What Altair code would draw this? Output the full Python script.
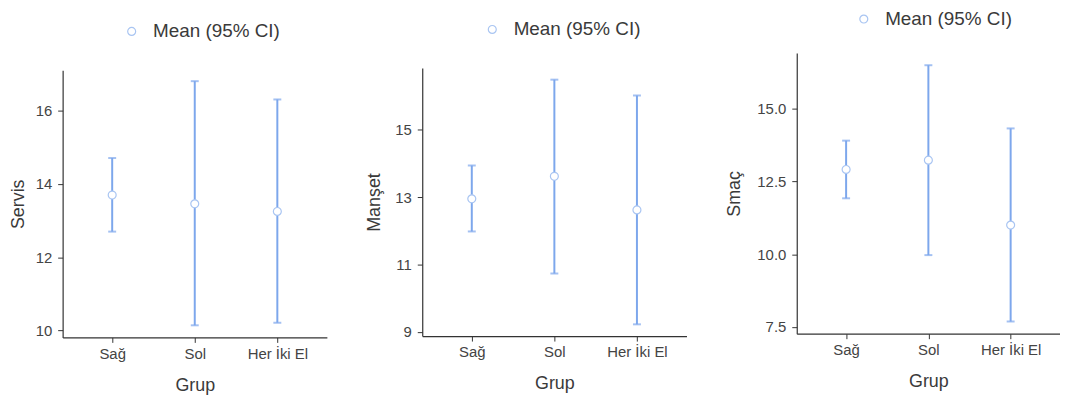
import altair as alt
import pandas as pd

groups = ["Sağ", "Sol", "Her İki El"]
legend_label = "Mean (95% CI)"

servis_mean = [13.70, 13.46, 13.25]
servis_lower = [12.70, 10.14, 10.21]
servis_upper = [14.71, 16.81, 16.31]

manset_mean = [12.95, 13.62, 12.62]
manset_lower = [11.98, 10.73, 9.22]
manset_upper = [13.94, 16.49, 16.02]

smac_mean = [12.91, 13.23, 11.00]
smac_lower = [11.92, 9.97, 7.69]
smac_upper = [13.90, 16.49, 14.32]

servis_ticks = [10, 12, 14, 16]
manset_ticks = [9, 11, 13, 15]
smac_ticks = [7.5, 10.0, 12.5, 15.0]

BAR = "#7DA7EC"
PT = "#A9C5F2"
TXT = "#3a3a3a"
FONT = "Liberation Sans"


def panel(title, mean, lower, upper, domain, ticks, fmt, width, height,
          y_top, title_pad, leg_x, leg_y):
    df = pd.DataFrame({"Grup": groups, "mean": mean, "lower": lower,
                       "upper": upper, "series": legend_label})
    x = alt.X("Grup:N", sort=groups,
              scale=alt.Scale(type="point", padding=0.6),
              axis=alt.Axis(title="Grup", labelAngle=0, labelPadding=4,
                            titlePadding=15))
    yscale = alt.Scale(domain=domain, nice=False, zero=False,
                       range=[height, y_top])
    yaxis = alt.Axis(title=title, values=ticks, format=fmt,
                     titlePadding=title_pad, labelPadding=6)

    def Y(field):
        return alt.Y(field + ":Q", scale=yscale, axis=yaxis)

    base = alt.Chart(df)
    rule = base.mark_rule(color=BAR, strokeWidth=2).encode(
        x=x, y=Y("lower"), y2="upper:Q")
    cap_lo = base.mark_tick(color=BAR, thickness=2, size=8,
                            orient="horizontal").encode(x=x, y=Y("lower"))
    cap_hi = base.mark_tick(color=BAR, thickness=2, size=8,
                            orient="horizontal").encode(x=x, y=Y("upper"))
    pts = base.mark_point(filled=False, fill="white", size=64,
                          strokeWidth=1.2, opacity=1).encode(
        x=x, y=Y("mean"),
        color=alt.Color("series:N",
                        scale=alt.Scale(domain=[legend_label], range=[PT]),
                        legend=alt.Legend(title=None, orient="none",
                                          legendX=leg_x, legendY=leg_y,
                                          padding=0,
                                          labelFontSize=19,
                                          labelColor=TXT, labelFont=FONT,
                                          symbolType="circle",
                                          symbolSize=64,
                                          symbolStrokeWidth=1.2,
                                          symbolFillColor="white",
                                          labelOffset=12)))
    return alt.layer(rule, cap_lo, cap_hi, pts).properties(
        width=width, height=height)


# common plot origin at the top of the tallest panel; each y range starts
# where that panel's axis line starts
p1 = panel("Servis", servis_mean, servis_lower, servis_upper,
           [9.81, 17.11], servis_ticks, "d", 266, 286.3, 17.3, 8, 60, -31.2)
p2 = panel("Manşet", manset_mean, manset_lower, manset_upper,
           [8.87, 16.84], manset_ticks, "d", 266, 285, 15, 11.3, 61, -33.2)
p3 = panel("Smaç", smac_mean, smac_lower, smac_upper,
           [7.27, 16.91], smac_ticks, ".1f", 265, 282.6, 0, 13.8, 58, -43.7)

chart = alt.hconcat(p1, p2, p3, spacing=39).resolve_scale(
    x="independent", y="independent", color="independent"
).resolve_legend(color="independent").properties(
    padding={"left": 1, "top": 0, "right": 0, "bottom": 0}
).configure(font=FONT).configure_view(stroke=None).configure_axis(
    grid=False, domainColor="#333333", domainWidth=1.2,
    tickColor="#333333", tickSize=5, tickWidth=1,
    labelFontSize=15, labelColor="#444444", labelFont=FONT,
    titleFontSize=18, titleColor=TXT, titleFont=FONT,
    titleFontWeight="normal"
)

chart.save("out.html", embed_options={"renderer": "svg", "actions": False})
